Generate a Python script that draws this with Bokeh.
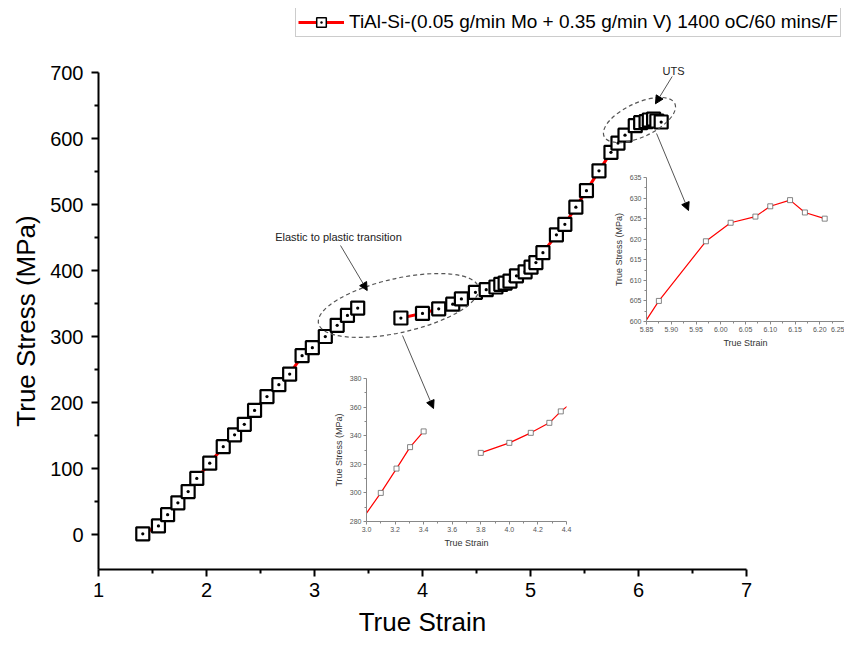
from bokeh.plotting import figure
from bokeh.models import (Range1d, FixedTicker, Legend, LegendItem, Label, Arrow,
                          NormalHead, NumeralTickFormatter)
from bokeh.embed import file_html
from bokeh.resources import INLINE

# ---------------- data ----------------
strain_elastic = [1.41, 1.555, 1.64, 1.735, 1.83, 1.91, 2.03, 2.155, 2.26, 2.35,
                  2.445, 2.56, 2.67, 2.77, 2.885, 2.98, 3.10, 3.21, 3.305, 3.40]
stress_elastic = [1, 13, 30, 48, 65, 85, 108, 133, 151, 167,
                  188, 209, 227, 243, 271, 283, 300, 317, 332, 343]

strain_plastic = [3.80, 4.00, 4.15, 4.28, 4.36, 4.49, 4.59, 4.68, 4.725, 4.765,
                  4.81, 4.87, 4.95, 5.005, 5.05, 5.115, 5.24, 5.318, 5.42, 5.518,
                  5.634, 5.745, 5.81, 5.875, 5.97, 6.02, 6.07, 6.10, 6.14, 6.17, 6.21]
stress_plastic = [328, 335, 342, 349, 357, 367, 371, 375, 379, 381,
                  384, 392, 398, 405, 412, 427, 454, 470, 496, 521,
                  551, 579, 593, 605, 619.5, 624, 625.5, 628, 629.5, 626.5, 625]

legend_label = "TiAl-Si-(0.05 g/min Mo + 0.35 g/min V) 1400 oC/60 mins/F"

x_ticks = [1, 2, 3, 4, 5, 6, 7]
y_ticks = [0, 100, 200, 300, 400, 500, 600, 700]
inset1_x_ticks = [3.0, 3.2, 3.4, 3.6, 3.8, 4.0, 4.2, 4.4]
inset1_y_ticks = [280, 300, 320, 340, 360, 380]
inset2_x_ticks = [5.85, 5.90, 5.95, 6.00, 6.05, 6.10, 6.15, 6.20, 6.25]
inset2_y_ticks = [600, 605, 610, 615, 620, 625, 630, 635]

FONT = "Liberation Sans"
W, H = 836, 638
BL, BR, BT, BB = 90, 98, 64, 77          # main frame borders (px)
PX_X = (W - BL - BR) / 6.0                # px per strain unit
PX_Y = (H - BT - BB) / 753.03             # px per MPa
Y0 = 700 - (H - BT - BB) / PX_Y           # bottom of main y range
OVERLAY = {"position": "absolute", "left": "8px", "top": "8px"}


def mids(t):
    return [(a + b) / 2 for a, b in zip(t[:-1], t[1:])]


# ---------------- main figure ----------------
p = figure(width=W, height=H, output_backend="svg", toolbar_location=None,
           x_range=Range1d(1, 7), y_range=Range1d(Y0, 700),
           min_border_left=BL, min_border_right=BR, min_border_top=BT, min_border_bottom=BB)
p.outline_line_color = None
p.grid.visible = False
p.styles = dict(OVERLAY)

p.xaxis.ticker = FixedTicker(ticks=x_ticks, minor_ticks=mids(x_ticks))
p.yaxis.ticker = FixedTicker(ticks=y_ticks, minor_ticks=mids(y_ticks))
p.xaxis.axis_label = "True Strain"
p.yaxis.axis_label = "True Stress (MPa)"
for ax in (p.xaxis[0], p.yaxis[0]):
    ax.axis_line_width = 2
    ax.axis_line_color = "black"
    ax.major_tick_line_width = 2
    ax.minor_tick_line_width = 2
    ax.major_tick_out = 7
    ax.major_tick_in = 0
    ax.minor_tick_out = 4
    ax.minor_tick_in = 0
    ax.major_label_text_font = FONT
    ax.major_label_text_font_size = "20px"
    ax.major_label_text_color = "black"
    ax.axis_label_text_font = FONT
    ax.axis_label_text_font_size = "26px"
    ax.axis_label_text_font_style = "normal"
    ax.axis_label_text_color = "black"
p.xaxis.major_label_standoff = 6
p.yaxis.major_label_standoff = 8
p.xaxis.axis_label_standoff = 7
p.yaxis.axis_label_standoff = 6

p.line(strain_elastic, stress_elastic, line_color="red", line_width=3)
p.line(strain_plastic, stress_plastic, line_color="red", line_width=3)
p.scatter(strain_elastic + strain_plastic, stress_elastic + stress_plastic,
          marker="square_dot", size=13, fill_color="white",
          line_color="black", line_width=2.2)

# ---------------- overlay for annotations & legend (frame = whole canvas) ----------------
ov = figure(width=W, height=H, output_backend="svg", toolbar_location=None,
            x_range=Range1d(1 - BL / PX_X, 7 + BR / PX_X),
            y_range=Range1d(Y0 - BB / PX_Y, 700 + BT / PX_Y),
            x_axis_location=None, y_axis_location=None,
            min_border_left=0, min_border_right=0, min_border_top=0, min_border_bottom=0)
ov.outline_line_color = None
ov.grid.visible = False
ov.background_fill_alpha = 0
ov.border_fill_alpha = 0
ov.styles = dict(OVERLAY)

lg_line = ov.line(strain_elastic, stress_elastic, line_color="red", line_width=3, visible=False)
lg_mark = ov.scatter(strain_elastic, stress_elastic, marker="square_dot", size=13,
                     fill_color="white", line_color="black", line_width=1.5, visible=False)
legend = Legend(items=[LegendItem(label=legend_label, renderers=[lg_line, lg_mark])],
                location=(287, H - 29))
legend.label_text_font = FONT
legend.label_text_font_size = "19px"
legend.label_text_color = "black"
legend.border_line_color = "#999999"
legend.border_line_width = 1
legend.padding = 2
legend.margin = 0
legend.glyph_width = 46
legend.glyph_height = 24
legend.label_height = 24
legend.label_standoff = 5
legend.inactive_fill_alpha = 0
ov.add_layout(legend)

ov.ellipse(x=[6.009], y=[628], width=[78], height=[34], angle=[25], angle_units="deg",
           width_units="screen", height_units="screen", fill_alpha=0,
           line_color="#555555", line_dash="4 3", line_width=1.2)
ov.ellipse(x=[3.778], y=[347], width=[164], height=[54], angle=[12.7], angle_units="deg",
           width_units="screen", height_units="screen", fill_alpha=0,
           line_color="#555555", line_dash="4 3", line_width=1.2)

for (xs, ys, xe, ye) in [(6.312, 694, 6.157, 652.6), (6.167, 607.6, 6.463, 490.9),
                         (3.241, 437.9, 3.488, 369.7), (3.815, 301.5, 4.102, 190.9)]:
    ov.add_layout(Arrow(end=NormalHead(size=8, fill_color="black", line_color="black"),
                        x_start=xs, y_start=ys, x_end=xe, y_end=ye,
                        line_color="#555555", line_width=1))

ov.add_layout(Label(x=6.324, y=702, text="UTS", text_align="center", text_baseline="middle",
                    text_font=FONT, text_font_size="11px", text_color="#222222"))
ov.add_layout(Label(x=3.222, y=451.5, text="Elastic to plastic transition",
                    text_align="center", text_baseline="middle",
                    text_font=FONT, text_font_size="11px", text_color="#222222"))


# ---------------- insets (transparent full-size overlays) ----------------
def make_inset(xr, yr, xt, yt, xfmt, bl, br, bt, bb):
    f = figure(width=W, height=H, output_backend="svg", toolbar_location=None,
               x_range=Range1d(*xr), y_range=Range1d(*yr),
               min_border_left=bl, min_border_right=br, min_border_top=bt, min_border_bottom=bb)
    f.background_fill_alpha = 0
    f.border_fill_alpha = 0
    f.outline_line_color = None
    f.grid.visible = False
    f.xaxis.ticker = FixedTicker(ticks=xt, minor_ticks=mids(xt))
    f.yaxis.ticker = FixedTicker(ticks=yt, minor_ticks=mids(yt))
    f.xaxis.formatter = NumeralTickFormatter(format=xfmt)
    f.yaxis.formatter = NumeralTickFormatter(format="0")
    f.xaxis.axis_label = "True Strain"
    f.yaxis.axis_label = "True Stress (MPa)"
    for ax in (f.xaxis[0], f.yaxis[0]):
        ax.axis_line_color = "#888888"
        ax.axis_line_width = 1
        ax.major_tick_line_color = "#888888"
        ax.minor_tick_line_color = "#888888"
        ax.major_tick_out = 3
        ax.major_tick_in = 0
        ax.minor_tick_out = 2
        ax.minor_tick_in = 0
        ax.major_label_text_font = FONT
        ax.major_label_text_font_size = "7px"
        ax.major_label_text_color = "#555555"
        ax.major_label_standoff = 2
        ax.axis_label_text_font = FONT
        ax.axis_label_text_font_size = "9px"
        ax.axis_label_text_font_style = "normal"
        ax.axis_label_text_color = "#333333"
        ax.axis_label_standoff = 3
    f.line(strain_elastic, stress_elastic, line_color="red", line_width=1.2)
    f.line(strain_plastic, stress_plastic, line_color="red", line_width=1.2)
    f.scatter(strain_elastic + strain_plastic, stress_elastic + stress_plastic,
              marker="square", size=5, fill_color="white", line_color="#666666",
              line_width=0.8)
    f.styles = dict(OVERLAY)
    return f


inset1 = make_inset((3.0, 4.4), (280, 380), inset1_x_ticks, inset1_y_ticks, "0.0",
                    bl=358, br=278, bt=370, bb=H - 513)
inset2 = make_inset((5.85, 6.25), (600, 635), inset2_x_ticks, inset2_y_ticks, "0.00",
                    bl=638, br=0, bt=169, bb=H - 313)

# separate roots, stacked on the same spot: no frame alignment between them
open("out.html", "w").write(file_html([p, ov, inset1, inset2], INLINE))
